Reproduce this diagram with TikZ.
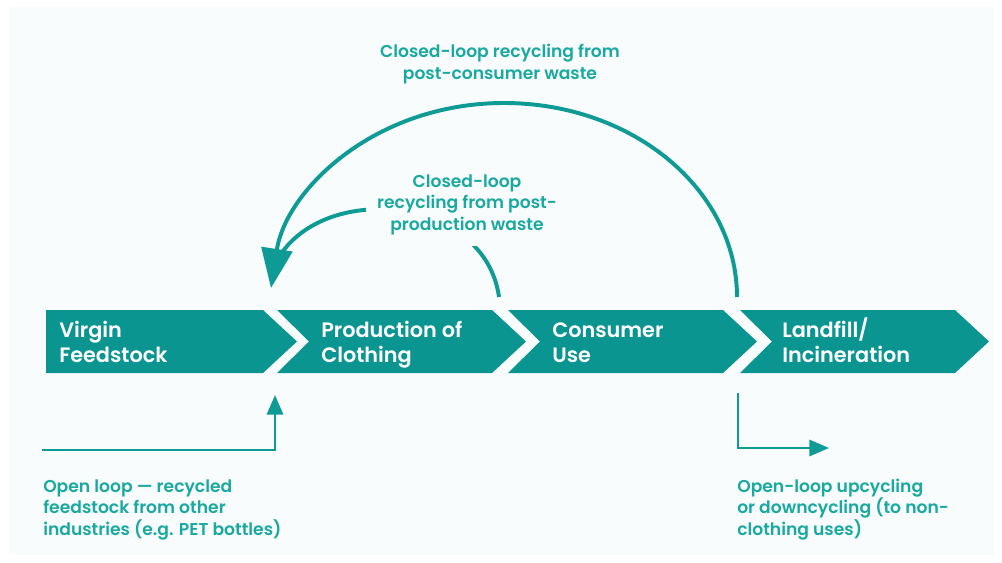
\documentclass[tikz,border=0pt]{standalone}
\usepackage{fontspec}
\setmainfont{Poppins}[BoldFont={Poppins SemiBold}]
\usepackage{tikz}
\usetikzlibrary{positioning, arrows.meta, calc}
\definecolor{pagebg}{HTML}{F8FCFD}
\definecolor{stagefill}{HTML}{0B9591}
\definecolor{flowline}{HTML}{0E9A95}
\definecolor{notetext}{HTML}{1AA9A0}

\begin{document}
\begin{tikzpicture}[x=0.025cm, y=-0.025cm,
    stage/.style={anchor=base west, inner sep=0pt, text=white, align=left,
      font=\bfseries\fontsize{14.8}{17.1}\selectfont},
    note/.style={inner sep=0pt, text=notetext,
      font=\bfseries\fontsize{12.2}{15.2}\selectfont},
    flow/.style={draw=flowline, line width=2.8pt},
    thinflow/.style={draw=flowline, line width=2pt, -{Triangle[length=14pt, width=11.5pt]}}]
    \useasboundingbox (0,0) rectangle (1002,562);
    \fill[pagebg] (9,7) rectangle (994,555);

    % chevrons
    \fill[stagefill] (46,310) -- (263,310) -- (297,341.5) -- (263,373) -- (46,373) -- cycle;
    \foreach \x in {277,508,740}
      \fill[stagefill] (\x,310) -- ++(215,0) -- ++(34,31.5) -- ++(-34,31.5)
        -- ++(-215,0) -- ++(32,-31.5) -- cycle;

    \node[stage] (virgin) at (59,362) {Virgin\\Feedstock};
    \node[stage] (production) at (321,362) {Production of\\Clothing};
    \node[stage] (consumer) at (552,362) {Consumer\\Use};
    \node[stage] (landfill) at (782,362) {Landfill/\\Incineration};

    % loop ends
    \coordinate (mergetip) at (271,288);
    \coordinate (prodwaste) at (499,297);
    \coordinate (userwaste) at (737,297);
    \coordinate (openstart) at (42,450);
    \coordinate (openintip) at (275,395);
    \coordinate (openoutstart) at (738,393);
    \coordinate (openouttip) at (829,448);

    % closed loop from post-production waste
    \draw[flow] (prodwaste) .. controls (485,195) and (320,180) .. (276,262);
    \node[note, align=center, anchor=base, fill=pagebg, inner sep=8pt]
      (postproduction) at (467,230) {Closed-loop\\recycling from post-\\production waste};

    % closed loop from post-consumer waste
    \draw[flow, -{Triangle[length=28pt, width=22pt]}] (userwaste)
      .. controls (737,190) and (633,103) .. (504,103)
      .. controls (375,103) and (286,190) .. (mergetip);
    \node[note, align=center, anchor=base] (postconsumer) at (500,79)
      {Closed-loop recycling from\\post-consumer waste};

    % open loops
    \draw[thinflow] (openstart) -| (openintip);
    \node[note, align=left, anchor=base west] (openin) at (43,535)
      {Open loop --- recycled\\feedstock from other\\industries (e.g. PET bottles)};
    \draw[thinflow] (openoutstart) |- (openouttip);
    \node[note, align=left, anchor=base west] (openout) at (737,535)
      {Open-loop upcycling\\or downcycling (to non-\\clothing uses)};
\end{tikzpicture}
\end{document}
